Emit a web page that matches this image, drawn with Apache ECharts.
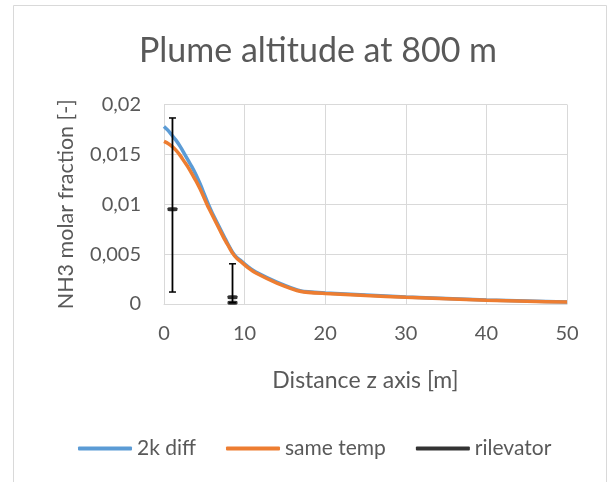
<!DOCTYPE html>
<html><head><meta charset="utf-8">
<script src="https://cdn.jsdelivr.net/npm/echarts@6/dist/echarts.min.js"></script>
<style>html,body{margin:0;padding:0;background:#fff}#c{width:609px;height:482px}</style>
</head><body><div id="c"></div>
<script>
const titleText = 'Plume altitude at 800 m';
const xName = 'Distance z axis [m]';
const yName = 'NH3 molar fraction [-]';
const seriesNames = ['2k diff', 'same temp', 'rilevator'];
const blueData = [[0,0.0178],[0.5,0.0174],[1,0.0169],[1.5,0.0164],[2,0.0158],[2.5,0.0151],[3,0.0144],[3.5,0.0137],[4,0.0129],[4.5,0.0120],[5,0.0110],[5.5,0.0100],[6,0.0091],[6.5,0.0083],[7,0.0075],[7.5,0.0067],[8,0.0059],[8.5,0.0052],[9,0.0047],[9.6,0.0043],[10.5,0.0037],[11.4,0.0032],[14,0.0022],[17,0.0013],[20,0.0011],[25,0.0009],[30,0.0007],[35,0.00055],[40,0.0004],[45,0.0003],[50,0.0002]];
const orangeData = [[0,0.0163],[0.5,0.0161],[1,0.0158],[1.5,0.0154],[2,0.0149],[2.5,0.0143],[3,0.0137],[3.5,0.0130],[4,0.0123],[4.5,0.0115],[5,0.0106],[5.5,0.0097],[6,0.0089],[6.5,0.0081],[7,0.0073],[7.5,0.0065],[8,0.0058],[8.5,0.0051],[9,0.0046],[9.6,0.0042],[10.5,0.0036],[11.4,0.0031],[14,0.0021],[17,0.00125],[20,0.00105],[25,0.00085],[30,0.00068],[35,0.00053],[40,0.00038],[45,0.00028],[50,0.00019]];
const rilevatorPoints = [[1.05,0.0095],[8.5,0.00067],[8.5,0.00013]];
// error bars: x, low, high
const errorBars = [[1.05,0.0012,0.01865],[8.5,0.00013,0.00403]];
const xTicks = {min:0, max:50, interval:10};
const yTicks = {min:0, max:0.02, interval:0.005};

const FONT = 'Lato';
const TXT = '#595959';
const chart = echarts.init(document.getElementById('c'));
chart.setOption({
  animation:false,
  backgroundColor:'#fff',
  textStyle:{fontFamily:FONT},
  graphic:[{type:'rect',shape:{x:13.5,y:5.5,width:593,height:490},style:{fill:'none',stroke:'#d9d9d9',lineWidth:1},silent:true}],
  title:{text:titleText,left:134,top:29,textStyle:{fontFamily:FONT,fontSize:34,fontWeight:'normal',color:TXT}},
  grid:{left:164,right:42,top:104.5,bottom:178},
  legend:{
    top:433,left:73,itemWidth:54,itemHeight:4,itemGap:30,icon:'roundRect',
    textStyle:{fontFamily:FONT,fontSize:21,color:TXT},
    data:seriesNames
  },
  xAxis:{type:'value',min:xTicks.min,max:xTicks.max,interval:xTicks.interval,
    name:xName,nameLocation:'middle',nameGap:65,nameTextStyle:{fontFamily:FONT,fontSize:23,color:TXT},
    axisLine:{show:true,lineStyle:{color:'#d9d9d9',width:1}},axisTick:{show:false},
    axisLabel:{fontFamily:FONT,fontSize:20,color:TXT,margin:20},
    splitLine:{show:true,lineStyle:{color:'#d9d9d9',width:1}}},
  yAxis:{type:'value',min:yTicks.min,max:yTicks.max,interval:yTicks.interval,
    name:yName,nameLocation:'middle',nameGap:87,nameTextStyle:{fontFamily:FONT,fontSize:21.5,color:TXT},
    axisLine:{show:true,lineStyle:{color:'#d9d9d9',width:1}},axisTick:{show:false},
    axisLabel:{fontFamily:FONT,fontSize:20,color:TXT,margin:23,formatter:v=>String(+v.toFixed(4)).replace('.',',')},
    splitLine:{show:true,lineStyle:{color:'#d9d9d9',width:1}}},
  series:[
    {name:seriesNames[0],type:'line',data:blueData,showSymbol:false,smooth:0.2,
      lineStyle:{color:'#5B9BD5',width:3.5},itemStyle:{color:'#5B9BD5'}},
    {name:seriesNames[1],type:'line',data:orangeData,showSymbol:false,smooth:0.2,
      lineStyle:{color:'#ED7D31',width:3.5},itemStyle:{color:'#ED7D31'}},
    {name:'errbars',type:'custom',data:errorBars,z:5,
      renderItem:(params,api)=>{
        const x=api.value(0),lo=api.value(1),hi=api.value(2);
        const pLo=api.coord([x,lo]),pHi=api.coord([x,hi]);
        const cw=3.5;
        const st={stroke:'#000',lineWidth:1.8};
        return {type:'group',children:[
          {type:'line',shape:{x1:pLo[0],y1:pLo[1],x2:pHi[0],y2:pHi[1]},style:st},
          {type:'line',shape:{x1:pLo[0]-cw,y1:pLo[1],x2:pLo[0]+cw,y2:pLo[1]},style:{stroke:'#000',lineWidth:1.5}},
          {type:'line',shape:{x1:pHi[0]-cw,y1:pHi[1],x2:pHi[0]+cw,y2:pHi[1]},style:{stroke:'#000',lineWidth:1.5}}
        ]};
      }},
    {name:seriesNames[2],type:'scatter',data:rilevatorPoints,symbol:'roundRect',symbolSize:[10,4],z:6,
      itemStyle:{color:'#000'}}
  ]
});
</script></body></html>
